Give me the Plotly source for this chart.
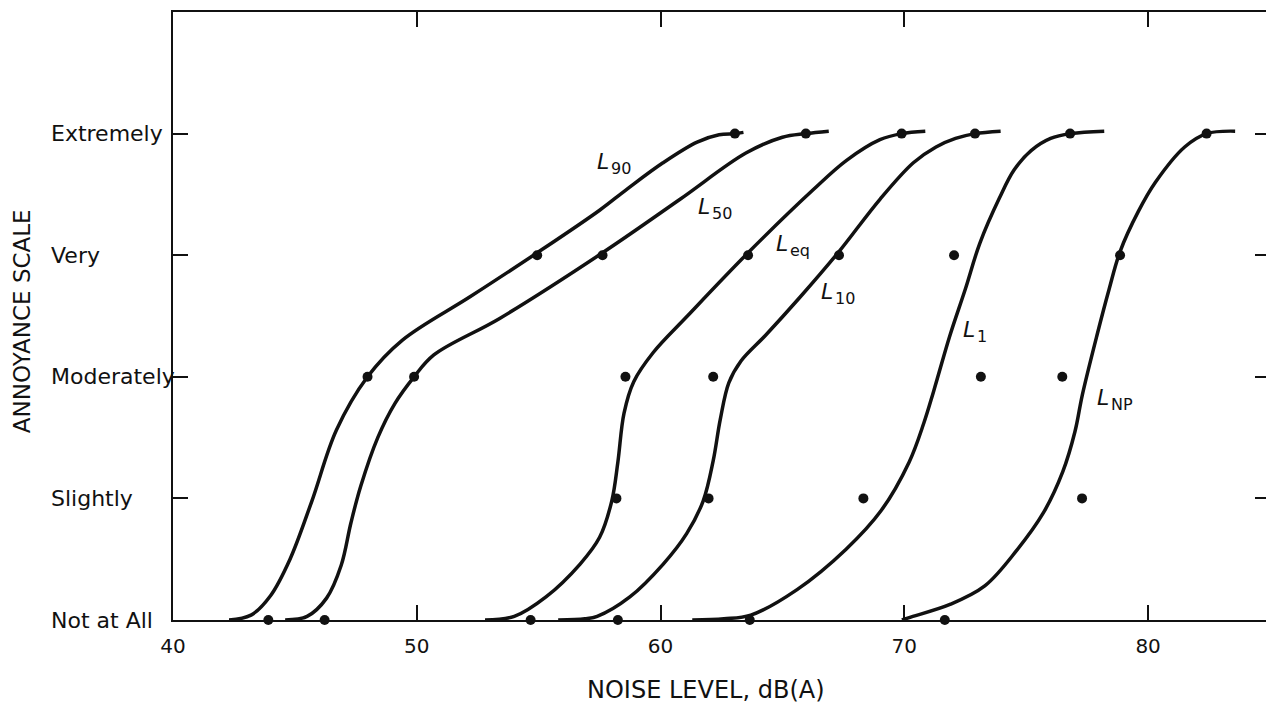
import plotly.graph_objects as go

# ---------------- data ----------------
levels = ["Not at All", "Slightly", "Moderately", "Very", "Extremely"]
level_vals = [0, 1, 2, 3, 4]
x_ticks = [40, 50, 60, 70, 80]
x_tick_text = ["40", "50", "60", "70", "80"]

# observed points (noise level at each annoyance step; None = not shown)
dots_L90 = [43.91, None, 47.98, 54.94, 63.05]
dots_L50 = [46.22, None, 49.89, 57.62, 65.96]
dots_Leq = [54.67, 58.19, 58.56, 63.59, 69.89]
dots_L10 = [58.25, 61.97, 62.16, 67.32, 72.90]
dots_L1 = [63.66, 68.32, 73.14, 72.04, 76.80]
dots_LNP = [71.66, 77.29, 76.48, 78.85, 82.40]

# fitted curves
curve_L90_x = [42.3, 43.2, 44.0, 44.8, 45.7, 46.7, 47.98, 49.4, 52.2, 54.94, 57.5, 58.6, 60.1,
               61.5, 62.4, 63.05, 63.4]
curve_L90_y = [0.0, 0.04, 0.2, 0.5, 0.98, 1.56, 2.0, 2.3, 2.66, 3.02, 3.37, 3.54, 3.76,
               3.93, 3.99, 4.0, 4.01]

curve_L50_x = [44.6, 45.5, 46.3, 46.9, 47.3, 47.7, 48.4, 49.1, 49.89, 50.7, 53.4, 57.62, 60.8,
               63.5, 65.0, 65.96, 66.9]
curve_L50_y = [0.0, 0.03, 0.18, 0.45, 0.8, 1.1, 1.5, 1.78, 2.0, 2.18, 2.48, 3.02, 3.46,
               3.84, 3.97, 4.0, 4.02]

curve_Leq_x = [52.8, 54.0, 55.3, 56.7, 57.5, 58.0, 58.25, 58.5, 58.9, 59.7, 61.1, 63.59,
               66.27, 67.63, 69.0, 69.89, 70.86]
curve_Leq_y = [0.0, 0.03, 0.19, 0.46, 0.68, 0.98, 1.3, 1.7, 1.96, 2.2, 2.5, 3.02,
               3.54, 3.78, 3.95, 4.0, 4.02]

curve_L10_x = [55.8, 56.9, 57.4, 58.74, 60.11, 61.07, 61.75, 62.16, 62.45, 62.8, 63.3, 64.3,
               65.7, 67.32, 69.0, 70.37, 71.3, 72.1, 72.9, 73.95]
curve_L10_y = [0.0, 0.01, 0.03, 0.19, 0.46, 0.71, 0.98, 1.31, 1.65, 1.95, 2.13, 2.34,
               2.65, 3.03, 3.46, 3.76, 3.89, 3.96, 4.0, 4.02]

curve_L1_x = [61.3, 62.6, 63.7, 65.6, 67.6, 69.05, 70.2, 70.8, 71.2, 71.87, 72.5, 73.1,
              73.9, 74.5, 75.2, 76.0, 76.84, 78.2]
curve_L1_y = [0.0, 0.01, 0.04, 0.25, 0.58, 0.9, 1.3, 1.62, 1.88, 2.34, 2.72, 3.1,
              3.47, 3.7, 3.86, 3.96, 4.0, 4.02]

curve_LNP_x = [69.9, 70.2, 71.9, 73.3, 74.6, 75.7, 76.5, 77.0, 77.3, 77.9, 78.4, 78.85,
               79.6, 80.3, 81.5, 82.4, 83.57]
curve_LNP_y = [0.0, 0.02, 0.13, 0.28, 0.57, 0.88, 1.22, 1.55, 1.85, 2.34, 2.72, 3.03,
               3.36, 3.6, 3.89, 4.0, 4.02]

series_names = ["L90", "L50", "Leq", "L10", "L1", "LNP"]
label_sub = ["90", "50", "eq", "10", "1", "NP"]
label_x = [57.32, 61.46, 64.65, 66.49, 72.31, 77.84]
label_y = [3.77, 3.40, 3.10, 2.70, 2.39, 1.83]

curves = [(curve_L90_x, curve_L90_y), (curve_L50_x, curve_L50_y), (curve_Leq_x, curve_Leq_y),
          (curve_L10_x, curve_L10_y), (curve_L1_x, curve_L1_y), (curve_LNP_x, curve_LNP_y)]
dots = [dots_L90, dots_L50, dots_Leq, dots_L10, dots_L1, dots_LNP]

# ---------------- figure ----------------
FONT = "DejaVu Sans"
INK = "#111111"

fig = go.Figure()

for name, (cx, cy) in zip(series_names, curves):
    fig.add_trace(go.Scatter(
        x=cx, y=cy, mode="lines", name=name,
        line=dict(color=INK, width=3.5, shape="spline", smoothing=1.0),
        cliponaxis=False, hoverinfo="skip", showlegend=False))

for name, d in zip(series_names, dots):
    xs = [v for v in d if v is not None]
    ys = [lv for v, lv in zip(d, level_vals) if v is not None]
    fig.add_trace(go.Scatter(
        x=xs, y=ys, mode="markers", name=name + " data",
        marker=dict(color=INK, size=10),
        cliponaxis=False, showlegend=False))

annotations = []
# curve labels: italic "L" with a smaller subscript beside it
for sub, lx, ly in zip(label_sub, label_x, label_y):
    annotations.append(dict(x=lx, y=ly, xref="x", yref="y", text="L", showarrow=False,
                            xanchor="left", yanchor="middle",
                            font=dict(family=FONT, size=22, color=INK, style="italic")))
    annotations.append(dict(x=lx, y=ly, xref="x", yref="y", text=sub, showarrow=False,
                            xanchor="left", yanchor="middle", xshift=14, yshift=-7,
                            font=dict(family=FONT, size=16, color=INK)))

# y-axis category labels (left aligned as in the original)
for lab, lv in zip(levels, level_vals):
    annotations.append(dict(x=-0.1128, y=lv, xref="paper", yref="y", text=lab, showarrow=False,
                            xanchor="left", yanchor="middle",
                            font=dict(family=FONT, size=22, color=INK)))

annotations.append(dict(x=0.486, y=-0.115, xref="paper", yref="paper",
                        text="NOISE LEVEL, dB(A)", showarrow=False,
                        xanchor="center", yanchor="middle",
                        font=dict(family=FONT, size=24, color=INK)))
annotations.append(dict(x=-0.1501, y=0.492, xref="paper", yref="paper",
                        text="ANNOYANCE SCALE", showarrow=False, textangle=-90,
                        xanchor="left", yanchor="middle", borderpad=0,
                        font=dict(family=FONT, size=23, color=INK)))

# the page body has an 8px default margin, so the figure is sized/offset to compensate
fig.update_layout(
    width=1266, height=695,
    margin=dict(l=165, r=2, t=2, b=83),
    paper_bgcolor="white", plot_bgcolor="white",
    font=dict(family=FONT, color=INK),
    annotations=annotations,
    xaxis=dict(range=[40, 85], tickvals=x_ticks, ticktext=x_tick_text,
               ticks="inside", ticklen=15, tickwidth=2, tickcolor=INK,
               showline=True, linewidth=2, linecolor=INK, mirror="ticks",
               showgrid=False, zeroline=False, ticklabelstandoff=7,
               tickfont=dict(family=FONT, size=20, color=INK)),
    yaxis=dict(range=[0, 5], tickvals=level_vals, ticktext=levels, showticklabels=False,
               ticks="inside", ticklen=15, tickwidth=2, tickcolor=INK,
               showline=True, linewidth=2, linecolor=INK, mirror="ticks",
               showgrid=False, zeroline=False),
)

fig.write_html("out.html")
